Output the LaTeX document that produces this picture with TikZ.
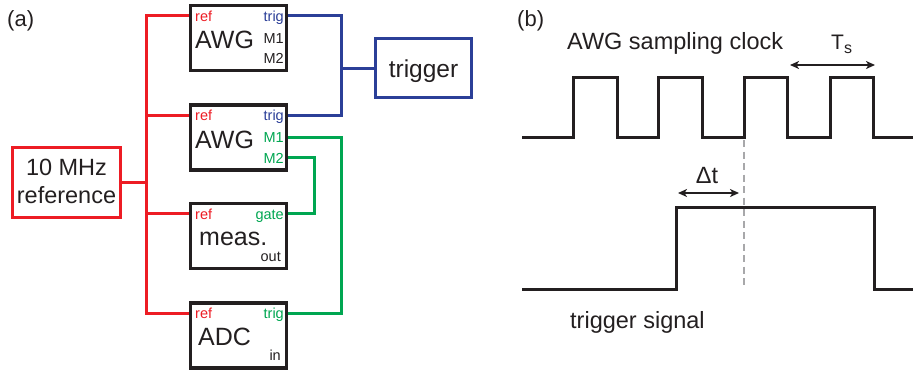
\documentclass[tikz,border=0pt]{standalone}
\usepackage{fontspec}
\setmainfont{Liberation Sans}
\usetikzlibrary{arrows.meta}
\definecolor{refred}{RGB}{237,28,36}
\definecolor{trigblue}{RGB}{43,63,152}
\definecolor{markgreen}{RGB}{0,166,81}
\definecolor{ink}{RGB}{35,31,32}
\definecolor{dashgray}{RGB}{168,168,170}
\newcommand{\sz}[1]{\fontsize{#1}{#1}\selectfont}
\begin{document}
\begin{tikzpicture}[x=1pt,y=-1pt,
  unitbox/.style={draw=ink, line width=3.2pt, minimum width=96pt, minimum height=65pt, inner sep=0pt},
  big/.style={font=\sz{25}, text=ink, inner sep=0pt},
  portlabel/.style={font=\sz{14.5}, inner sep=0pt},
  caption/.style={font=\sz{23.5}, text=ink, inner sep=0pt},
  wire/.style={line width=3pt, line join=miter},
  wave/.style={draw=ink, line width=3pt, line join=miter},
  span/.style={draw=ink, line width=2.2pt, {Stealth[length=9pt,width=8pt,inset=2.5pt]}-{Stealth[length=9pt,width=8pt,inset=2.5pt]}},
]
\useasboundingbox (0,0) rectangle (913,373);

% ---------- (a) block diagram ----------
\node[font=\sz{22}, text=ink, anchor=base west, inner sep=0pt] (labela) at (7,26) {(a)};

\node[unitbox] (awg1) at (238.5,38) {};
\node[unitbox] (awg2) at (238.5,137.5) {};
\node[unitbox] (meas) at (238.5,236) {};
\node[unitbox] (adc)  at (238.5,335.5) {};
\node[draw=refred, line width=3.2pt, minimum width=108pt, minimum height=70pt, inner sep=0pt] (ref) at (66.5,182.5) {};
\node[draw=trigblue, line width=3.2pt, minimum width=96pt, minimum height=59pt, inner sep=0pt] (trig) at (423.5,68) {};

% box titles
\node[big, anchor=base west] (awg1name) at (195,48) {AWG};
\node[big, anchor=base west] (awg2name) at (195,148) {AWG};
\node[big, anchor=base west] (measname) at (199,245) {meas.};
\node[big, anchor=base west] (adcname)  at (198,345) {ADC};
\node[caption, font=\sz{23.5}, anchor=base] (refname1) at (66.5,175) {10 MHz};
\node[caption, font=\sz{23.5}, anchor=base] (refname2) at (66.5,203) {reference};
\node[caption, font=\sz{24.5}, anchor=base] (trigname) at (423.5,77) {trigger};

% port labels
\node[portlabel, text=refred,   anchor=base west] (awg1refl)  at (195,21) {ref};
\node[portlabel, text=trigblue, anchor=base east] (awg1trigl) at (284,21) {trig};
\node[portlabel, text=ink,      anchor=base east] (awg1m1l)   at (284,43) {M1};
\node[portlabel, text=ink,      anchor=base east] (awg1m2l)   at (284,63) {M2};

\node[portlabel, text=refred,     anchor=base west] (awg2refl)  at (195,120) {ref};
\node[portlabel, text=trigblue,   anchor=base east] (awg2trigl) at (284,120) {trig};
\node[portlabel, text=markgreen,  anchor=base east] (awg2m1l)   at (284,142) {M1};
\node[portlabel, text=markgreen,  anchor=base east] (awg2m2l)   at (284,163) {M2};

\node[portlabel, text=refred,    anchor=base west] (measrefl)  at (195,219) {ref};
\node[portlabel, text=markgreen, anchor=base east] (measgatel) at (284,219) {gate};
\node[portlabel, text=ink,       anchor=base east] (measoutl)  at (281,261) {out};

\node[portlabel, text=refred,    anchor=base west] (adcrefl)  at (195,318) {ref};
\node[portlabel, text=markgreen, anchor=base east] (adctrigl) at (284,318) {trig};
\node[portlabel, text=ink,       anchor=base east] (adcinl)   at (281,360) {in};

% port points on the box edges
\path (awg1.west |- 0,15)  coordinate (awg1-ref)
      (awg2.west |- 0,115) coordinate (awg2-ref)
      (meas.west |- 0,213) coordinate (meas-ref)
      (adc.west  |- 0,313) coordinate (adc-ref)
      (awg1.east |- 0,15)  coordinate (awg1-trig)
      (awg2.east |- 0,115) coordinate (awg2-trig)
      (awg2.east |- 0,137) coordinate (awg2-m1)
      (awg2.east |- 0,157) coordinate (awg2-m2)
      (meas.east |- 0,213) coordinate (meas-gate)
      (adc.east  |- 0,313) coordinate (adc-trig);
% junction points of the buses
\coordinate (refbus) at (146,182.5);
\coordinate (trigbus) at (341,68);
\coordinate (m1bus) at (341,225);
\coordinate (m2bus) at (314,185);

% 10 MHz distribution
\draw[wire, refred] (ref.east) -- (refbus);
\draw[wire, refred] (awg1-ref) -| (refbus);
\draw[wire, refred] (adc-ref) -| (refbus);
\draw[wire, refred] (awg2-ref) -| (refbus);
\draw[wire, refred] (meas-ref) -| (refbus);

% trigger lines
\draw[wire, trigblue] (awg1-trig) -| (trigbus);
\draw[wire, trigblue] (awg2-trig) -| (trigbus);
\draw[wire, trigblue] (trigbus) -- (trig.west);

% marker lines
\draw[wire, markgreen] (awg2-m1) -| (m1bus) |- (adc-trig);
\draw[wire, markgreen] (awg2-m2) -| (m2bus) |- (meas-gate);

% ---------- (b) timing ----------
\node[font=\sz{22}, text=ink, anchor=base west, inner sep=0pt] (labelb) at (517,26) {(b)};
\node[caption, anchor=base west] (clocklabel) at (567,49) {AWG sampling clock};
\node[caption, anchor=base west] (triglabel) at (570,328) {trigger signal};

\draw[wave] (522,137) -- (573,137) -- (573,77) -- (617,77) -- (617,137)
  -- (658,137) -- (658,77) -- (702,77) -- (702,137)
  -- (744,137) -- (744,77) -- (787,77) -- (787,137)
  -- (830,137) -- (830,77) -- (873,77) -- (873,137) -- (913,137);
\draw[wave] (522,289) -- (676,289) -- (676,207) -- (874,207) -- (874,289) -- (913,289);

\draw[dashgray, line width=2.4pt, dash pattern=on 7pt off 4.5pt] (744,140) -- (744,287);

\coordinate (tsl) at (790,65);
\coordinate (tsr) at (875,65);
\draw[span] (tsl) -- (tsr);
\node[inner sep=0pt, text=ink, anchor=base west] (tslabel) at (831,49) {\sz{21}T\raisebox{-4pt}{\sz{16}s}};

\coordinate (dtl) at (678,193);
\coordinate (dtr) at (739,193);
\draw[span] (dtl) -- (dtr);
\node[caption, anchor=base] (dtlabel) at (707,183) {Δt};
\end{tikzpicture}
\end{document}
